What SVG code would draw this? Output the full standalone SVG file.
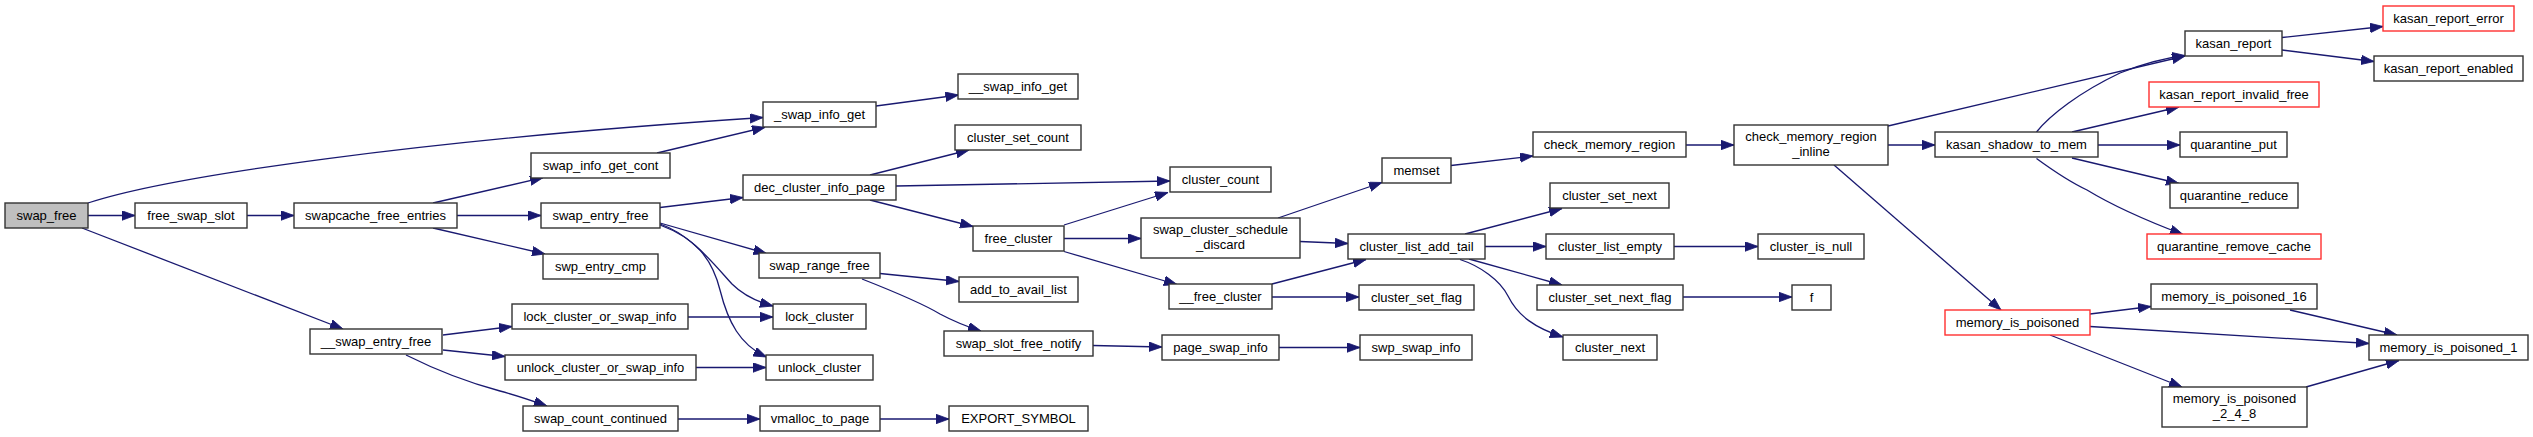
<svg xmlns="http://www.w3.org/2000/svg" width="2533" height="437" viewBox="0 0 2533 437">
<style>
.n rect{fill:#fff;stroke:#333;stroke-width:1.4}
.n.root rect{fill:#bfbfbf}
.n.red rect{stroke:#ff3030}
.n text{font-family:"Liberation Sans",Arial,sans-serif;font-size:13px;fill:#000;text-anchor:middle}
#edges path{fill:none;stroke:#191970;stroke-width:1.3;marker-end:url(#ah)}
</style>
<defs>
<marker id="ah" markerUnits="userSpaceOnUse" markerWidth="14" markerHeight="10" refX="13" refY="4.75" orient="auto">
<path d="M0,0 L13,4.75 L0,9.5 Z" fill="#191970" stroke="#191970" stroke-width="0.8"/>
</marker>
</defs>
<rect width="2533" height="437" fill="#fff"/>
<g id="edges">
<path d="M88,203 C170,176 420,140 763,117.5"/>
<path d="M88,215.5 L135,215.5"/>
<path d="M82,228 L343,329"/>
<path d="M247,215.5 L294,215.5"/>
<path d="M433,203 L543,177.7"/>
<path d="M457,215.5 L541,215.5"/>
<path d="M433,228 L545,254"/>
<path d="M657,153 L765,127.3"/>
<path d="M876,106 L958.5,95"/>
<path d="M870,175 L969,150"/>
<path d="M896,186 L1170,181"/>
<path d="M870,200 L973,226.5"/>
<path d="M660,207.5 L743,197.5"/>
<path d="M660,223 L766.5,253.5"/>
<path d="M660,224 C690,234 712,262 732,284 C744,296 758,302 773,306"/>
<path d="M660,225 C695,238 712,258 720,290 C728,322 740,345 766.5,357"/>
<path d="M880,273.5 L959,281.5"/>
<path d="M862,279 C890,290 920,302 940,314 C955,322 968,327 981,331"/>
<path d="M688,317 L773,317"/>
<path d="M696,367.5 L766,367.5"/>
<path d="M443,335 L512,326.5"/>
<path d="M443,350 L505,356.5"/>
<path d="M406,355 C440,372 470,383 500,391 C515,395 530,400 547,406"/>
<path d="M678,419 L760,419"/>
<path d="M880,419 L949,419"/>
<path d="M1064,225 L1168,192.5"/>
<path d="M1064,238.5 L1141,238.5"/>
<path d="M1064,251.5 L1177,284.5"/>
<path d="M1093,345.5 L1162,347"/>
<path d="M1278,218 L1382,182.5"/>
<path d="M1300,241.5 L1348,243.5"/>
<path d="M1272,284 L1366,259.5"/>
<path d="M1272,297 L1359,297"/>
<path d="M1279,347.5 L1360,347.5"/>
<path d="M1451,165.5 L1533,156"/>
<path d="M1686,145 L1734,145"/>
<path d="M1465,234 L1562,208.5"/>
<path d="M1485,246.5 L1546,246.5"/>
<path d="M1469,259 L1562,285"/>
<path d="M1460,259.5 C1480,266 1500,280 1508,296 C1518,316 1535,328 1563,337"/>
<path d="M1674,246.5 L1758,246.5"/>
<path d="M1683,297 L1792,297"/>
<path d="M1888,126 L2185,56"/>
<path d="M1888,145 L1935,145"/>
<path d="M1834,165 L2001,310"/>
<path d="M2282,37.5 L2383,26.5"/>
<path d="M2282,50 L2374,61.5"/>
<path d="M2036.5,132 C2050,115 2080,92 2120,73 C2145,63 2165,58 2185,55.5"/>
<path d="M2072,132 L2179,107"/>
<path d="M2098,145 L2180,145"/>
<path d="M2072,158 L2179,183.5"/>
<path d="M2036.5,158.5 C2055,172 2070,182 2087,190 C2110,204 2150,222 2183,234.5"/>
<path d="M2090,314 L2151,306.5"/>
<path d="M2090,326.5 L2369,343.5"/>
<path d="M2050,335 L2182,387"/>
<path d="M2290,310 L2397,335"/>
<path d="M2306,387 L2399,360.5"/>
</g>
<g id="node_swap_free" class="n root"><rect x="5" y="203" width="83" height="25"/><text x="46.5" y="220">swap_free</text></g>
<g id="node_free_swap_slot" class="n"><rect x="135" y="203" width="112" height="25"/><text x="191" y="220">free_swap_slot</text></g>
<g id="node_swapcache_free_entries" class="n"><rect x="294" y="203" width="163" height="25"/><text x="375.5" y="220">swapcache_free_entries</text></g>
<g id="node_swap_info_get_cont" class="n"><rect x="531" y="153" width="139" height="25"/><text x="600.5" y="170">swap_info_get_cont</text></g>
<g id="node_swap_entry_free" class="n"><rect x="541" y="203" width="119" height="25"/><text x="600.5" y="220">swap_entry_free</text></g>
<g id="node_swp_entry_cmp" class="n"><rect x="543" y="254" width="115" height="25"/><text x="600.5" y="271">swp_entry_cmp</text></g>
<g id="node___swap_entry_free" class="n"><rect x="310" y="329" width="132" height="25"/><text x="376" y="346">__swap_entry_free</text></g>
<g id="node_lock_cluster_or_swap_info" class="n"><rect x="512" y="304" width="176" height="25"/><text x="600" y="321">lock_cluster_or_swap_info</text></g>
<g id="node_unlock_cluster_or_swap_info" class="n"><rect x="505" y="355" width="191" height="25"/><text x="600.5" y="372">unlock_cluster_or_swap_info</text></g>
<g id="node_swap_count_continued" class="n"><rect x="523" y="406" width="155" height="25"/><text x="600.5" y="423">swap_count_continued</text></g>
<g id="node__swap_info_get" class="n"><rect x="763" y="102" width="113" height="25"/><text x="819.5" y="119">_swap_info_get</text></g>
<g id="node___swap_info_get" class="n"><rect x="958" y="74" width="120" height="25"/><text x="1018" y="91">__swap_info_get</text></g>
<g id="node_cluster_set_count" class="n"><rect x="955" y="125" width="126" height="25"/><text x="1018" y="142">cluster_set_count</text></g>
<g id="node_dec_cluster_info_page" class="n"><rect x="743" y="175" width="153" height="25"/><text x="819.5" y="192">dec_cluster_info_page</text></g>
<g id="node_cluster_count" class="n"><rect x="1170" y="167" width="101" height="25"/><text x="1220.5" y="184">cluster_count</text></g>
<g id="node_free_cluster" class="n"><rect x="973" y="226" width="91" height="25"/><text x="1018.5" y="243">free_cluster</text></g>
<g id="node_swap_range_free" class="n"><rect x="759" y="253" width="121" height="25"/><text x="819.5" y="270">swap_range_free</text></g>
<g id="node_lock_cluster" class="n"><rect x="773" y="304" width="93" height="25"/><text x="819.5" y="321">lock_cluster</text></g>
<g id="node_unlock_cluster" class="n"><rect x="766" y="355" width="107" height="25"/><text x="819.5" y="372">unlock_cluster</text></g>
<g id="node_add_to_avail_list" class="n"><rect x="959" y="277" width="119" height="25"/><text x="1018.5" y="294">add_to_avail_list</text></g>
<g id="node_swap_slot_free_notify" class="n"><rect x="944" y="331" width="149" height="25"/><text x="1018.5" y="348">swap_slot_free_notify</text></g>
<g id="node_vmalloc_to_page" class="n"><rect x="760" y="406" width="120" height="25"/><text x="820" y="423">vmalloc_to_page</text></g>
<g id="node_EXPORT_SYMBOL" class="n"><rect x="949" y="406" width="139" height="25"/><text x="1018.5" y="423">EXPORT_SYMBOL</text></g>
<g id="node_swap_cluster_schedule_discard" class="n"><rect x="1141" y="218" width="159" height="40"/><text x="1220.5" y="234">swap_cluster_schedule</text><text x="1220.5" y="249">_discard</text></g>
<g id="node___free_cluster" class="n"><rect x="1169" y="284" width="103" height="25"/><text x="1220.5" y="301">__free_cluster</text></g>
<g id="node_page_swap_info" class="n"><rect x="1162" y="335" width="117" height="25"/><text x="1220.5" y="352">page_swap_info</text></g>
<g id="node_memset" class="n"><rect x="1382" y="158" width="69" height="25"/><text x="1416.5" y="175">memset</text></g>
<g id="node_check_memory_region" class="n"><rect x="1533" y="132" width="153" height="25"/><text x="1609.5" y="149">check_memory_region</text></g>
<g id="node_check_memory_region_inline" class="n"><rect x="1734" y="125" width="154" height="40"/><text x="1811" y="141">check_memory_region</text><text x="1811" y="156">_inline</text></g>
<g id="node_cluster_set_next" class="n"><rect x="1550" y="183" width="119" height="25"/><text x="1609.5" y="200">cluster_set_next</text></g>
<g id="node_cluster_list_add_tail" class="n"><rect x="1348" y="234" width="137" height="25"/><text x="1416.5" y="251">cluster_list_add_tail</text></g>
<g id="node_cluster_list_empty" class="n"><rect x="1546" y="234" width="128" height="25"/><text x="1610" y="251">cluster_list_empty</text></g>
<g id="node_cluster_is_null" class="n"><rect x="1758" y="234" width="106" height="25"/><text x="1811" y="251">cluster_is_null</text></g>
<g id="node_cluster_set_flag" class="n"><rect x="1359" y="285" width="115" height="25"/><text x="1416.5" y="302">cluster_set_flag</text></g>
<g id="node_cluster_set_next_flag" class="n"><rect x="1537" y="285" width="146" height="25"/><text x="1610" y="302">cluster_set_next_flag</text></g>
<g id="node_f" class="n"><rect x="1792" y="285" width="39" height="25"/><text x="1811.5" y="302">f</text></g>
<g id="node_swp_swap_info" class="n"><rect x="1360" y="335" width="112" height="25"/><text x="1416" y="352">swp_swap_info</text></g>
<g id="node_cluster_next" class="n"><rect x="1563" y="335" width="94" height="25"/><text x="1610" y="352">cluster_next</text></g>
<g id="node_kasan_report" class="n"><rect x="2185" y="31" width="97" height="25"/><text x="2233.5" y="48">kasan_report</text></g>
<g id="node_kasan_report_error" class="n red"><rect x="2383" y="6" width="131" height="25"/><text x="2448.5" y="23">kasan_report_error</text></g>
<g id="node_kasan_report_enabled" class="n"><rect x="2374" y="56" width="149" height="25"/><text x="2448.5" y="73">kasan_report_enabled</text></g>
<g id="node_kasan_report_invalid_free" class="n red"><rect x="2149" y="82" width="170" height="25"/><text x="2234" y="99">kasan_report_invalid_free</text></g>
<g id="node_kasan_shadow_to_mem" class="n"><rect x="1935" y="132" width="163" height="25"/><text x="2016.5" y="149">kasan_shadow_to_mem</text></g>
<g id="node_quarantine_put" class="n"><rect x="2180" y="132" width="107" height="25"/><text x="2233.5" y="149">quarantine_put</text></g>
<g id="node_quarantine_reduce" class="n"><rect x="2170" y="183" width="128" height="25"/><text x="2234" y="200">quarantine_reduce</text></g>
<g id="node_quarantine_remove_cache" class="n red"><rect x="2147" y="234" width="174" height="25"/><text x="2234" y="251">quarantine_remove_cache</text></g>
<g id="node_memory_is_poisoned" class="n red"><rect x="1945" y="310" width="145" height="25"/><text x="2017.5" y="327">memory_is_poisoned</text></g>
<g id="node_memory_is_poisoned_16" class="n"><rect x="2151" y="284" width="166" height="25"/><text x="2234" y="301">memory_is_poisoned_16</text></g>
<g id="node_memory_is_poisoned_1" class="n"><rect x="2369" y="335" width="159" height="25"/><text x="2448.5" y="352">memory_is_poisoned_1</text></g>
<g id="node_memory_is_poisoned_2_4_8" class="n"><rect x="2162" y="387" width="145" height="40"/><text x="2234.5" y="403">memory_is_poisoned</text><text x="2234.5" y="418">_2_4_8</text></g>
</svg>
